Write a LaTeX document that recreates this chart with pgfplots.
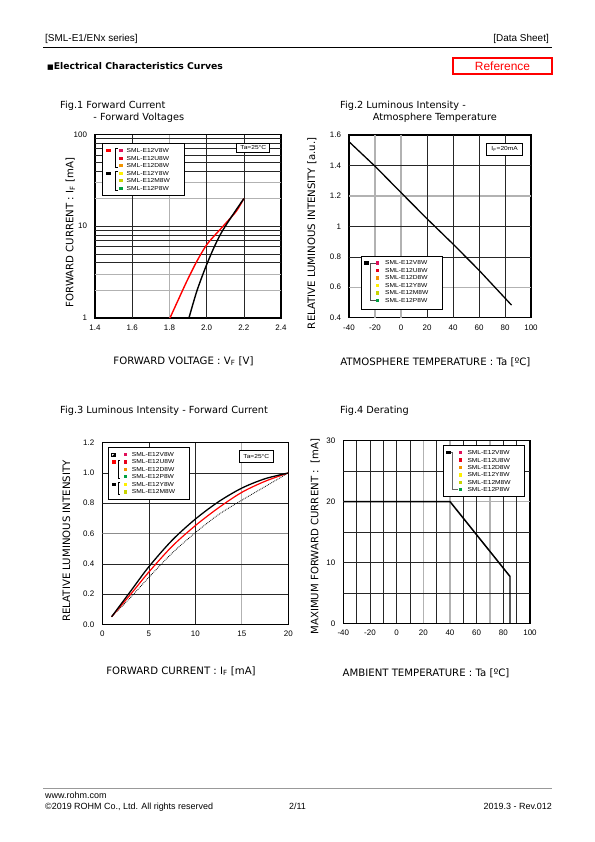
\documentclass[border=0pt]{standalone}
\usepackage{fontspec}
\usepackage{pgfplots}
\pgfplotsset{compat=1.18}
\setmainfont{Liberation Sans}
\newfontfamily\dv{DejaVu Sans}
\newfontfamily\legf[FakeStretch=1.15]{Liberation Sans}
\definecolor{cV}{HTML}{E0105A}
\definecolor{cU}{HTML}{E8001C}
\definecolor{cD}{HTML}{F29400}
\definecolor{cY}{HTML}{FFF000}
\definecolor{cM}{HTML}{C8D400}
\definecolor{cP}{HTML}{00A040}
\newcommand\ttl{\dv\fontsize{9.8}{11}\selectfont}
\newcommand\lbl{\dv\fontsize{10.2}{11}\selectfont}
\newcommand\lgf{\legf\fontsize{5.8}{6}\selectfont}
\tikzset{dk/.style={black!85, line width=0.55pt}, lg/.style={black!30, line width=1.3pt}}
\pgfplotsset{ds/.style={scale only axis, anchor=south west, axis line style={line width=1.2pt},
  major tick length=0pt, minor tick length=0pt,
  ticklabel style={font=\fontsize{8}{9}\selectfont},
  /pgf/number format/assume math mode=true,
  xticklabel style={yshift=-3.5pt}, yticklabel style={xshift=-4.5pt}}}
\newcommand\sq[3]{\fill[#3] ({#1-1.7},{#2-1.7}) rectangle ({#1+1.7},{#2+1.7});}
\newcommand\bsq[3]{\fill[#3] ({#1-2.2},{#2-1.7}) rectangle ({#1+2.2},{#2+1.7});}
\newcommand\lt[3]{\node[anchor=west, inner sep=0pt, font=\lgf] at (#1,#2) {#3};}
\begin{document}
\begin{tikzpicture}
\path[use as bounding box, fill=white] (0,0) rectangle (595bp,-842bp);
\begin{scope}[x=1bp,y=-1bp]
% header
\node[anchor=base west, inner sep=0pt, font=\fontsize{10}{12}\selectfont] at (45,41) {[SML-E1/ENx series]};
\node[anchor=base east, inner sep=0pt, font=\fontsize{10}{12}\selectfont] at (549,41) {[Data Sheet]};
\draw[line width=0.8pt] (43,47.5) -- (552,47.5);
\node[anchor=base west, inner sep=0pt, font=\dv\bfseries\fontsize{9.3}{11}\selectfont] at (47,69) {{\fontsize{7}{8}\selectfont ■}Electrical Characteristics Curves};
\node[draw=red, line width=1.6pt, minimum width=99bp, minimum height=16.5bp, inner sep=0pt, text=red, font=\fontsize{12}{13}\selectfont] at (502.5,66) {Reference};
% footer
\draw[black!40, line width=0.6pt] (43,788) -- (552,788);
\node[anchor=base west, inner sep=0pt, font=\fontsize{9}{10}\selectfont] at (45,798.5) {www.rohm.com};
\node[anchor=base west, inner sep=0pt, font=\fontsize{9}{10}\selectfont] at (45,809.5) {©2019 ROHM Co., Ltd. All rights reserved};
\node[anchor=base west, inner sep=0pt, font=\fontsize{9}{10}\selectfont] at (289,809.5) {2/11};
\node[anchor=base east, inner sep=0pt, font=\fontsize{9}{10}\selectfont] at (552,809.5) {2019.3 - Rev.012};
% titles
\node[anchor=base west, inner sep=0pt, font=\ttl] at (60,108.3) {Fig.1 Forward Current};
\node[anchor=base west, inner sep=0pt, font=\ttl] at (93.3,120) {- Forward Voltages};
\node[anchor=base west, inner sep=0pt, font=\ttl] at (340,108.3) {Fig.2 Luminous Intensity -};
\node[anchor=base west, inner sep=0pt, font=\ttl] at (372.7,120) {Atmosphere Temperature};
\node[anchor=base west, inner sep=0pt, font=\ttl] at (60,413.3) {Fig.3 Luminous Intensity - Forward Current};
\node[anchor=base west, inner sep=0pt, font=\ttl] at (340,413.3) {Fig.4 Derating};
% axis labels
\node[anchor=base, inner sep=0pt, font=\lbl] at (183.5,364) {FORWARD VOLTAGE : V\textsubscript{F} [V]};
\node[anchor=base, inner sep=0pt, font=\lbl, rotate=90] at (73.3,232.5) {FORWARD CURRENT : I\textsubscript{F} [mA]};
\node[anchor=base, inner sep=0pt, font=\lbl] at (435.3,365) {ATMOSPHERE TEMPERATURE : Ta [ºC]};
\node[anchor=base, inner sep=0pt, font=\lbl, rotate=90] at (315,233.3) {RELATIVE LUMINOUS INTENSITY [a.u.]};
\node[anchor=base, inner sep=0pt, font=\lbl] at (181,674) {FORWARD CURRENT : I\textsubscript{F} [mA]};
\node[anchor=base, inner sep=0pt, font=\lbl, rotate=90] at (70,541) {RELATIVE LUMINOUS INTENSITY};
\node[anchor=base, inner sep=0pt, font=\lbl] at (426,676.7) {AMBIENT TEMPERATURE : Ta [ºC]};
\node[anchor=base, inner sep=0pt, font=\lbl, rotate=90] at (318.3,536.7) {MAXIMUM FORWARD CURRENT :\ \ [mA]};
\end{scope}

% ---------- Fig.1
\begin{axis}[ds, at={(95bp,-318bp)}, width=186bp, height=183.5bp,
  xmin=1.4, xmax=2.4, ymode=log, ymin=1, ymax=100,
  xtick={1.4,1.6,1.8,2.0,2.2,2.4}, ytick={1,10,100}, log ticks with fixed point,
  xticklabel style={/pgf/number format/.cd, fixed, fixed zerofill, precision=1}]
\pgfplotsinvokeforeach{2,3,20,30}{\draw[lg] (axis cs:1.4,#1) -- (axis cs:2.4,#1);}
\draw[lg] (axis cs:1.8,1) -- (axis cs:1.8,100);
\pgfplotsinvokeforeach{1.6,2.0,2.2}{\draw[dk] (axis cs:#1,1) -- (axis cs:#1,100);}
\pgfplotsinvokeforeach{4,5,6,7,8,9,10,40,50,60,70,80,90}{\draw[dk] (axis cs:1.4,#1) -- (axis cs:2.4,#1);}
\addplot[red, line width=1.4pt, smooth] coordinates {(1.803,1) (1.844,1.52) (1.893,2.5) (1.947,4.13) (2.0,6.27) (2.054,8.39) (2.107,11.0) (2.161,14.7) (2.2,20)};
\addplot[black, line width=1.4pt, smooth] coordinates {(1.905,1) (1.947,1.95) (1.993,3.5) (2.038,5.77) (2.075,8.2) (2.111,10.8) (2.156,14.8) (2.2,20)};
\end{axis}

% ---------- Fig.2
\begin{axis}[ds, at={(349bp,-317.7bp)}, width=182bp, height=182.7bp,
  xmin=-40, xmax=100, ymin=0.4, ymax=1.6,
  xtick={-40,-20,0,20,40,60,80,100}, ytick={0.4,0.6,0.8,1,1.2,1.4,1.6}]
\pgfplotsinvokeforeach{-20,0}{\draw[lg] (axis cs:#1,0.4) -- (axis cs:#1,1.6);}
\pgfplotsinvokeforeach{1.2,0.6}{\draw[lg] (axis cs:-40,#1) -- (axis cs:100,#1);}
\pgfplotsinvokeforeach{20,40,60,80}{\draw[dk] (axis cs:#1,0.4) -- (axis cs:#1,1.6);}
\pgfplotsinvokeforeach{1.4,1.0,0.8}{\draw[dk] (axis cs:-40,#1) -- (axis cs:100,#1);}
\addplot[black, line width=1.3pt] coordinates {(-40,1.556) (-20,1.395) (0,1.222) (20,1.05) (40,0.884) (60,0.712) (85,0.483)};
\end{axis}

% ---------- Fig.3
\begin{axis}[ds, at={(102.3bp,-624.3bp)}, width=186bp, height=181.6bp,
  xmin=0, xmax=20, ymin=0, ymax=1.2,
  xtick={0,5,10,15,20}, ytick={0,0.2,0.4,0.6,0.8,1.0,1.2},
  yticklabel style={/pgf/number format/.cd, fixed, fixed zerofill, precision=1}]
\draw[lg] (axis cs:15,0) -- (axis cs:15,1.2);
\draw[black!45, line width=0.6pt] (axis cs:0,0.6) -- (axis cs:20,0.6);
\pgfplotsinvokeforeach{5,10}{\draw[dk] (axis cs:#1,0) -- (axis cs:#1,1.2);}
\pgfplotsinvokeforeach{0.2,0.4,0.8,1.0}{\draw[dk] (axis cs:0,#1) -- (axis cs:20,#1);}
\addplot[black, line width=0.8pt, densely dotted, smooth] coordinates {(1,0.05) (3,0.175) (5,0.31) (7.5,0.47) (10,0.605) (12.5,0.725) (15,0.82) (17.5,0.91) (20,1.0)};
\addplot[red, line width=1.2pt, smooth] coordinates {(1,0.05) (3,0.195) (5,0.345) (7.5,0.515) (10,0.652) (12.5,0.77) (15,0.872) (17.5,0.945) (20,1.0)};
\addplot[black, line width=1.3pt, smooth] coordinates {(1,0.05) (3,0.215) (5,0.38) (7.5,0.555) (10,0.695) (12.5,0.81) (15,0.9) (17.5,0.962) (20,1.0)};
\end{axis}

% ---------- Fig.4
\begin{axis}[ds, at={(343.3bp,-623.3bp)}, width=186.7bp, height=182.6bp,
  xmin=-40, xmax=100, ymin=0, ymax=30,
  xtick={-40,-20,0,20,40,60,80,100}, ytick={0,10,20,30}]
\pgfplotsinvokeforeach{20,40,70}{\draw[lg] (axis cs:#1,0) -- (axis cs:#1,30);}
\draw[lg] (axis cs:-40,20) -- (axis cs:100,20);
\pgfplotsinvokeforeach{-30,-20,-10,0,10,30,50,60,80,90}{\draw[dk] (axis cs:#1,0) -- (axis cs:#1,30);}
\pgfplotsinvokeforeach{5,10,15,25}{\draw[dk] (axis cs:-40,#1) -- (axis cs:100,#1);}
\addplot[black, line width=1.5pt] coordinates {(-40,20) (40,20) (85,7.7) (85,0)};
\end{axis}

\begin{scope}[x=1bp,y=-1bp]
% Fig.1 legend
\draw[line width=0.8pt, fill=white] (102.7,143.3) rectangle (184,195.3);
\bsq{108.3}{150.7}{red}
\bsq{108.3}{173.2}{black}
\draw[line width=0.6pt] (117.5,148.7) -- (115.5,148.7) -- (115.5,167.7) -- (117.5,167.7);
\draw[line width=0.6pt] (117.5,171.2) -- (115.5,171.2) -- (115.5,190.2) -- (117.5,190.2);
\sq{121}{150.7}{cV}\sq{121}{158.2}{cU}\sq{121}{165.7}{cD}\sq{121}{173.2}{cY}\sq{121}{180.7}{cM}\sq{121}{188.2}{cP}
\lt{126.5}{150.7}{SML-E12V8W}\lt{126.5}{158.2}{SML-E12U8W}\lt{126.5}{165.7}{SML-E12D8W}
\lt{126.5}{173.2}{SML-E12Y8W}\lt{126.5}{180.7}{SML-E12M8W}\lt{126.5}{188.2}{SML-E12P8W}
\node[draw, line width=0.7pt, fill=white, minimum width=33bp, minimum height=9bp, inner sep=0pt, font=\lgf] at (253.3,147.8) {Ta=25°C};
% Fig.2 legend
\draw[line width=0.8pt, fill=white] (361,256.7) rectangle (442.3,309.3);
\bsq{366.3}{263}{black}
\draw[black!70, line width=0.7pt] (375.5,263) -- (370.5,263) -- (370.5,300.5) -- (375.5,300.5);
\sq{377.5}{263}{cV}\sq{377.5}{270.5}{cU}\sq{377.5}{278}{cD}\sq{377.5}{285.5}{cY}\sq{377.5}{293}{cM}\sq{377.5}{300.5}{cP}
\lt{385}{263}{SML-E12V8W}\lt{385}{270.5}{SML-E12U8W}\lt{385}{278}{SML-E12D8W}
\lt{385}{285.5}{SML-E12Y8W}\lt{385}{293}{SML-E12M8W}\lt{385}{300.5}{SML-E12P8W}
\node[draw, line width=0.7pt, fill=white, minimum width=36bp, minimum height=12bp, inner sep=0pt, font=\lgf] at (504.7,149.3) {I\textsubscript{F}=20mA};
% Fig.3 legend
\draw[line width=0.8pt, fill=white] (108.3,447.7) rectangle (189,499.3);
\fill[black] (111.6,453) rectangle (115,456.4);
\fill[white] (111.6,453) -- (115,453) -- (111.6,456.4) -- cycle;
\draw[black, line width=0.3pt] (111.6,453) rectangle (115,456.4);
\bsq{113.8}{462}{red}
\bsq{113.8}{484.5}{black}
\draw[line width=0.6pt] (120,460) -- (118,460) -- (118,478.7) -- (120,478.7);
\draw[line width=0.6pt] (120,482.5) -- (118,482.5) -- (118,493.8) -- (120,493.8);
\sq{125.5}{454.7}{cV}\sq{125.5}{462}{cU}\sq{125.5}{469.3}{cD}\sq{125.5}{476.7}{cP}\sq{125.5}{484.5}{cY}\sq{125.5}{491.8}{cM}
\lt{131.7}{454.7}{SML-E12V8W}\lt{131.7}{462}{SML-E12U8W}\lt{131.7}{469.3}{SML-E12D8W}
\lt{131.7}{476.7}{SML-E12P8W}\lt{131.7}{484.5}{SML-E12Y8W}\lt{131.7}{491.8}{SML-E12M8W}
\node[draw, line width=0.7pt, fill=white, minimum width=34bp, minimum height=12bp, inner sep=0pt, font=\lgf] at (256.3,456.7) {Ta=25°C};
% Fig.4 legend
\draw[line width=0.8pt, fill=white] (443.3,445.7) rectangle (524.3,496.7);
\bsq{448.3}{452.7}{black}
\draw[black!60, line width=0.7pt] (450.5,452.7) -- (452.3,452.7) -- (452.3,489.7) -- (458,489.7);
\sq{460.5}{452.7}{cV}\sq{460.5}{460.1}{cU}\sq{460.5}{467.5}{cD}\sq{460.5}{474.9}{cY}\sq{460.5}{482.3}{cM}\sq{460.5}{489.7}{cP}
\lt{467.3}{452.7}{SML-E12V8W}\lt{467.3}{460.1}{SML-E12U8W}\lt{467.3}{467.5}{SML-E12D8W}
\lt{467.3}{474.9}{SML-E12Y8W}\lt{467.3}{482.3}{SML-E12M8W}\lt{467.3}{489.7}{SML-E12P8W}
\end{scope}
\end{tikzpicture}
\end{document}
